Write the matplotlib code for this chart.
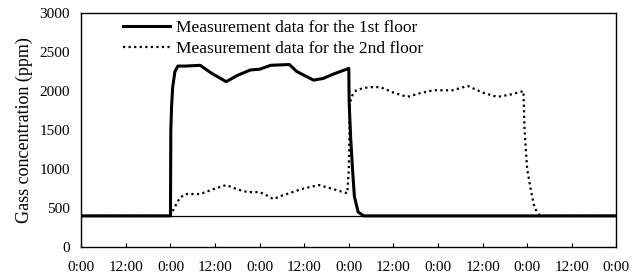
import matplotlib
matplotlib.use('Agg')
import matplotlib.pyplot as plt

plt.rcParams['font.family'] = ['Liberation Serif', 'DejaVu Serif']

# hours from start, gas concentration (ppm)
h1 = [0, 24, 24.1, 24.3, 24.6, 25.2, 26, 28, 32, 35, 39, 42, 45.5, 48, 51, 56, 58, 62.5, 65, 68, 72,
      72.1, 72.5, 73, 73.5, 74.5, 76, 144]
floor1 = [400, 400, 1500, 1800, 2050, 2250, 2320, 2320, 2330, 2230, 2120, 2200, 2270, 2280, 2330, 2340,
          2250, 2140, 2160, 2220, 2290, 1850, 1400, 1000, 650, 450, 400, 400]

h2 = [0, 24, 25, 26.5, 28, 32, 36, 39, 42, 44.7, 48, 50, 51.7, 54, 56, 59, 61.6, 64, 68, 71.6, 72, 72.3,
      73, 74, 76, 78, 80.5, 84, 87.7, 91, 94.8, 100, 104, 108, 112, 116, 119, 119.3, 120, 121, 122, 123.5, 144]
floor2 = [400, 400, 500, 630, 680, 680, 750, 795, 740, 705, 705, 660, 615, 660, 690, 740, 770, 795, 740, 690,
          1000, 1850, 1950, 2010, 2040, 2050, 2050, 1980, 1925, 1970, 2010, 2010, 2065, 1980, 1925, 1960, 2000,
          1500, 1000, 730, 500, 400, 400]

xticks = list(range(0, 145, 12))
xlabels = ['0:00', '12:00'] * 6 + ['0:00']
baseline = 400

fig = plt.figure(figsize=(6.4, 2.77), dpi=100)
ax = fig.add_axes([0.127, 0.108, 0.836, 0.845])

ax.axhline(baseline, color='black', lw=0.9)
ax.plot(h1, floor1, color='black', lw=2.2, label='Measurement data for the 1st floor')
ax.plot(h2, floor2, color='black', lw=1.6, linestyle=(0, (1, 1.5)), label='Measurement data for the 2nd floor')

ax.set_xlim(0, 144)
ax.set_ylim(0, 3000)
ax.set_xticks(xticks)
ax.set_xticklabels(xlabels)
ax.set_yticks([0, 500, 1000, 1500, 2000, 2500, 3000])
ax.tick_params(axis='x', direction='in', length=3, labelsize=11, pad=10)
ax.tick_params(axis='y', length=0, labelsize=11, pad=8)
ax.set_ylabel('Gass concentration (ppm)', fontsize=13, labelpad=5)
for s in ax.spines.values():
    s.set_linewidth(1.0)

ax.legend(loc='upper left', bbox_to_anchor=(0.065, 1.0), frameon=False, fontsize=12.5,
          handlelength=2.7, handletextpad=0.35, labelspacing=0.25, borderaxespad=0)

fig.savefig('out.png', dpi=100)
